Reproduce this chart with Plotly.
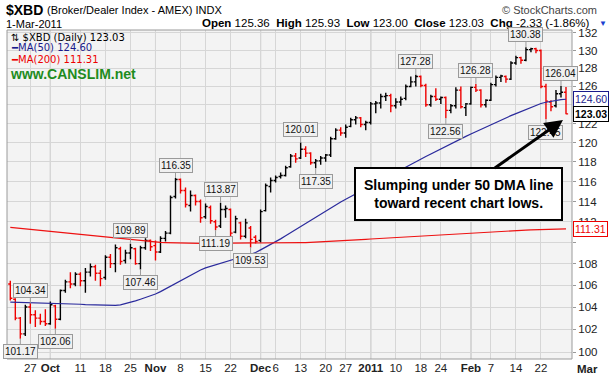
import math
import pandas as pd
import plotly.graph_objects as go

# ---------------- data ----------------
HOLIDAYS = ["2010-11-25", "2010-12-24", "2011-01-17", "2011-02-21"]
dates = [d.strftime("%Y-%m-%d") for d in pd.bdate_range("2010-09-21", "2011-03-01")
         if d.strftime("%Y-%m-%d") not in HOLIDAYS]

opens = [
    106.1, 104.7, 103.0, 101.6,
    104.0, 103.3, 103.0, 102.7, 102.5,
    104.1, 102.9, 105.5, 106.3, 106.1,
    107.0, 106.4, 107.2, 107.7, 107.1,
    106.7, 108.6, 108.0, 109.4, 108.3,
    109.0, 109.4, 108.0, 109.5, 110.2,
    109.7, 109.1, 110.4, 110.9, 114.5,
    116.2, 115.1, 113.6, 114.6, 114.0,
    112.5, 113.4, 112.0, 111.6, 113.2,
    113.2, 111.0, 111.9, 110.6,
    111.4, 110.5, 110.2, 113.1, 115.5,
    116.1, 116.5, 116.6, 117.5, 118.6,
    118.4, 119.3, 118.9, 117.9, 118.1,
    118.4, 118.7, 120.4, 121.3,
    121.0, 121.7, 122.4, 122.6, 121.9,
    122.1, 124.1, 124.2, 124.9, 125.0,
    123.9, 124.3, 124.7, 126.0, 126.5,
    127.1, 126.1, 124.0, 124.9,
    124.6, 124.8, 123.4, 123.9, 125.6,
    123.7, 124.1, 125.9, 125.6, 124.0,
    124.5, 126.2, 127.0, 127.1, 126.8,
    128.6, 129.2, 128.9, 130.1, 130.2,
    130.0, 126.0, 124.3, 123.9, 125.2,
    125.36,
]
highs = [
    106.4, 104.8, 103.1, 104.2,
    104.34, 103.7, 103.4, 103.8, 104.5,
    104.2, 105.6, 106.5, 107.2, 107.2,
    107.2, 107.6, 108.0, 107.9, 107.4,
    108.8, 108.9, 109.8, 109.6, 109.3,
    109.89, 109.5, 109.7, 110.4, 110.3,
    110.2, 110.6, 111.1, 114.6, 116.35,
    116.3, 115.4, 115.1, 114.7, 114.2,
    113.8, 113.6, 112.2, 113.87, 113.6,
    113.3, 112.6, 112.0, 112.3,
    111.6, 110.7, 113.2, 115.8, 116.4,
    116.6, 116.9, 117.6, 118.8, 118.9,
    120.01, 119.6, 119.0, 118.3, 118.6,
    118.8, 120.6, 121.5, 121.6,
    121.9, 122.6, 122.8, 122.7, 122.3,
    124.3, 124.4, 125.2, 125.3, 125.2,
    124.7, 124.9, 126.2, 127.1, 127.28,
    127.2, 126.3, 125.1, 125.8,
    124.9, 124.9, 124.1, 125.9, 126.0,
    124.2, 126.0, 126.28, 125.7, 124.6,
    126.4, 127.2, 127.3, 127.2, 128.8,
    129.4, 129.3, 130.38, 130.3, 130.3,
    130.1, 126.3, 124.5, 125.6, 126.04,
    125.93,
]
lows = [
    104.6, 102.8, 101.17, 101.4,
    102.5, 102.2, 102.4, 102.3, 102.4,
    102.06, 102.8, 105.3, 105.7, 105.9,
    105.9, 105.3, 106.8, 106.4, 105.9,
    106.5, 107.6, 107.2, 107.9, 108.0,
    108.4, 107.9, 107.46, 109.3, 109.2,
    108.3, 109.0, 110.1, 110.8, 114.3,
    114.8, 113.4, 113.0, 113.6, 111.9,
    112.3, 111.8, 111.19, 111.4, 112.4,
    110.6, 110.9, 110.3, 110.4,
    109.53, 109.9, 110.0, 113.0, 114.9,
    115.9, 116.3, 116.5, 117.4, 117.9,
    118.3, 118.5, 117.7, 117.35, 117.7,
    118.0, 118.5, 120.3, 120.7,
    120.5, 121.6, 121.9, 121.6, 121.3,
    121.9, 123.1, 123.6, 124.4, 123.2,
    123.6, 123.9, 124.5, 125.9, 126.0,
    125.9, 123.8, 123.8, 124.4,
    124.1, 122.56, 123.1, 123.6, 123.6,
    122.8, 124.0, 125.4, 123.7, 123.7,
    124.4, 126.0, 126.5, 126.4, 126.7,
    128.4, 128.5, 128.8, 129.8, 129.7,
    125.8, 122.45, 123.3, 123.7, 124.8,
    123.00,
]
closes = [
    104.8, 103.0, 101.6, 104.0,
    103.3, 103.0, 102.7, 102.5, 104.2,
    102.9, 105.5, 106.3, 106.1, 107.0,
    106.4, 107.2, 107.7, 107.1, 106.6,
    108.6, 108.0, 109.5, 108.2, 109.0,
    109.5, 108.0, 109.5, 110.2, 109.6,
    109.1, 110.4, 110.9, 114.4, 116.2,
    115.1, 113.7, 114.6, 114.0, 112.4,
    113.5, 112.1, 111.5, 113.2, 113.3,
    110.9, 112.3, 110.6, 111.9,
    110.3, 110.1, 113.0, 115.6, 116.1,
    116.4, 116.6, 117.4, 118.6, 118.3,
    119.3, 118.9, 117.9, 118.1, 118.4,
    118.7, 120.4, 121.3, 121.0,
    121.6, 122.4, 122.6, 121.9, 122.1,
    124.1, 124.2, 124.9, 125.0, 123.9,
    124.3, 124.6, 126.0, 126.5, 127.1,
    126.1, 124.0, 124.9, 124.6,
    124.8, 123.4, 123.9, 125.6, 123.8,
    124.1, 125.9, 125.6, 124.0, 124.5,
    126.2, 127.0, 127.15, 126.8, 128.6,
    129.2, 128.9, 130.1, 130.2, 130.0,
    126.0, 124.4, 123.8, 125.2, 125.36,
    123.03,
]
prior_close = 106.4

ma50 = [
    104.45, 104.44, 104.43, 104.42, 104.40, 104.39, 104.38, 104.37, 104.36, 104.35,
    104.33, 104.31, 104.29, 104.27, 104.25, 104.22, 104.20, 104.18, 104.16, 104.15,
    104.14, 104.15, 104.20, 104.30, 104.42, 104.55, 104.70, 104.85, 105.00, 105.18,
    105.40, 105.65, 105.90, 106.15, 106.42, 106.70, 106.95, 107.20, 107.40, 107.60,
    107.75, 107.90, 108.05, 108.20, 108.35, 108.48, 108.60, 108.72, 108.85, 109.05,
    109.30, 109.55, 109.80, 110.05, 110.35, 110.65, 110.95, 111.25, 111.55, 111.85,
    112.15, 112.45, 112.75, 113.05, 113.35, 113.65, 113.95, 114.22, 114.49, 114.76,
    115.03, 115.30, 115.57, 115.84, 116.11, 116.38, 116.65, 116.92, 117.19, 117.46,
    117.73, 118.00, 118.27, 118.54, 118.81, 119.08, 119.35, 119.62, 119.89, 120.14,
    120.39, 120.64, 120.89, 121.14, 121.39, 121.64, 121.89, 122.14, 122.39, 122.62,
    122.84, 123.06, 123.28, 123.50, 123.72, 123.94, 124.14, 124.28, 124.40, 124.49, 124.56, 124.60,
]
ma200 = [
    111.45, 111.40, 111.35, 111.30, 111.25, 111.20, 111.15, 111.10, 111.05, 111.00,
    110.95, 110.90, 110.85, 110.80, 110.75, 110.70, 110.65, 110.60, 110.55, 110.50,
    110.45, 110.40, 110.35, 110.30, 110.25, 110.20, 110.16, 110.12, 110.08, 110.05,
    110.02, 110.00, 109.98, 109.97, 109.96, 109.95, 109.94, 109.93, 109.92, 109.92,
    109.92, 109.92, 109.92, 109.92, 109.92, 109.92, 109.92, 109.92, 109.92, 109.93,
    109.93, 109.94, 109.94, 109.95, 109.95, 109.96, 109.97, 109.98, 109.99, 110.00,
    110.02, 110.04, 110.06, 110.08, 110.10, 110.13, 110.16, 110.19, 110.22, 110.25,
    110.28, 110.31, 110.34, 110.37, 110.40, 110.43, 110.46, 110.49, 110.52, 110.55,
    110.58, 110.61, 110.64, 110.67, 110.70, 110.73, 110.76, 110.79, 110.82, 110.85,
    110.88, 110.91, 110.94, 110.97, 111.00, 111.03, 111.06, 111.08, 111.10, 111.12,
    111.14, 111.16, 111.18, 111.20, 111.22, 111.24, 111.25, 111.26, 111.27, 111.28, 111.30, 111.31,
]

tick_dates = ["2010-09-27", "2010-10-01", "2010-10-11", "2010-10-18", "2010-10-25",
              "2010-11-01", "2010-11-08", "2010-11-15", "2010-11-22", "2010-12-01",
              "2010-12-06", "2010-12-13", "2010-12-20", "2010-12-27", "2011-01-03",
              "2011-01-10", "2011-01-18", "2011-01-24", "2011-02-01", "2011-02-07",
              "2011-02-14", "2011-02-22"]
tick_labels = ["27", "<b>Oct</b>", "11", "18", "25", "<b>Nov</b>", "8", "15", "22",
               "<b>Dec</b>", "6", "13", "20", "27", "<b>2011</b>", "10", "18", "24",
               "<b>Feb</b>", "7", "14", "22"]
month_dates = ["2010-10-01", "2010-11-01", "2010-12-01", "2011-01-03", "2011-02-01"]
y_ticks = list(range(100, 133, 2))
y_tick_hidden = [110, 124]   # covered by the value boxes in the original

swing_points = [("2010-09-23", "low"), ("2010-09-27", "high"), ("2010-10-04", "low"),
                ("2010-10-25", "high"), ("2010-10-27", "low"), ("2010-11-05", "high"),
                ("2010-11-17", "low"), ("2010-11-18", "high"), ("2010-11-29", "low"),
                ("2010-12-13", "high"), ("2010-12-16", "low"), ("2011-01-14", "high"),
                ("2011-01-25", "low"), ("2011-02-02", "high"), ("2011-02-16", "high"),
                ("2011-02-28", "high"), ("2011-02-23", "low")]
support_start = "2011-01-11"
support_date = "2011-01-25"
note_text = "Slumping under 50 DMA line<br>toward recent chart lows."

# ---------------- figure ----------------
W, H = 614, 380
ML, MR, MT, MB = 7, 42, 30, 21
PW, PH = W - ML - MR, H - MT - MB


def px(xp):
    return (xp - ML) / PW


def py(yp):
    return (H - MB - yp) / PH


SANS = "Liberation Sans, Arial, sans-serif"
VERD = "DejaVu Sans, Verdana, sans-serif"

idx = {d: i for i, d in enumerate(dates)}
xk = list(range(len(dates)))
prev = [prior_close] + closes[:-1]
up = [i for i in xk if closes[i] >= prev[i]]
dn = [i for i in xk if closes[i] < prev[i]]

fig = go.Figure()


def ohlc(ids, color):
    return go.Ohlc(
        x=[xk[i] for i in ids], open=[opens[i] for i in ids], high=[highs[i] for i in ids],
        low=[lows[i] for i in ids], close=[closes[i] for i in ids],
        increasing=dict(line=dict(color=color, width=1.4)),
        decreasing=dict(line=dict(color=color, width=1.4)),
        tickwidth=0.42, showlegend=False, hoverinfo="skip")


fig.add_trace(ohlc(up, "#000000"))
fig.add_trace(ohlc(dn, "#ee0000"))
fig.add_trace(go.Scatter(x=xk, y=ma50, mode="lines", line=dict(color="#2a2a9c", width=1.2),
                         showlegend=False, hoverinfo="skip"))
fig.add_trace(go.Scatter(x=xk, y=ma200, mode="lines", line=dict(color="#ee1111", width=1.2),
                         showlegend=False, hoverinfo="skip"))

x_min, x_max = -0.66, 112.2
y_min, y_max = 99.40, 132.34

shapes = []
for d in month_dates:
    shapes.append(dict(type="line", xref="x", yref="paper", x0=idx[d], x1=idx[d], y0=0, y1=1,
                       line=dict(color="#a4a4a4", width=1), layer="between"))
sup_level = lows[idx[support_date]]
shapes.append(dict(type="line", xref="x", yref="y", x0=idx[support_start], x1=x_max,
                   y0=math.log10(sup_level), y1=math.log10(sup_level),
                   line=dict(color="#000000", width=3), layer="above"))
shapes.append(dict(type="rect", xref="paper", yref="paper", x0=0, x1=1, y0=0, y1=1,
                   line=dict(color="#9a9a9a", width=1), layer="above"))

ann = []
# header
ann.append(dict(text="<b>$XBD</b>", x=px(4), y=py(9.5), xref="paper", yref="paper",
                xanchor="left", yanchor="middle", showarrow=False,
                font=dict(family=SANS, size=14, color="#000")))
ann.append(dict(text="(Broker/Dealer Index - AMEX) INDX", x=px(45), y=py(10.5), xref="paper",
                yref="paper", xanchor="left", yanchor="middle", showarrow=False,
                font=dict(family=SANS, size=11, color="#000")))
ann.append(dict(text="© StockCharts.com", x=px(599), y=py(10), xref="paper", yref="paper",
                xanchor="right", yanchor="middle", showarrow=False,
                font=dict(family=SANS, size=11, color="#444")))
ann.append(dict(text="1-Mar-2011", x=px(4), y=py(24), xref="paper", yref="paper",
                xanchor="left", yanchor="middle", showarrow=False,
                font=dict(family=SANS, size=11, color="#000")))
chg = closes[-1] - closes[-2]
pct = chg / closes[-2] * 100
summary = ("<b>Open</b> %.2f  <b>High</b> %.2f  <b>Low</b> %.2f  <b>Close</b> %.2f  "
           "<b>Chg</b> %.2f (%.2f%%)" % (opens[-1], highs[-1], lows[-1], closes[-1], chg, pct))
ann.append(dict(text=summary, x=px(592), y=py(23.5), xref="paper", yref="paper",
                xanchor="right", yanchor="middle", showarrow=False,
                font=dict(family=SANS, size=11.5, color="#000")))
ann.append(dict(text="▼", x=px(597), y=py(23.5), xref="paper", yref="paper",
                xanchor="left", yanchor="middle", showarrow=False,
                font=dict(family=SANS, size=8, color="#1a3fd0")))
# legend
ann.append(dict(text="⇅ $XBD (Daily) %.2f" % closes[-1], x=px(9), y=py(37), xref="paper",
                yref="paper", xanchor="left", yanchor="middle", showarrow=False,
                font=dict(family=VERD, size=10, color="#000")))
ann.append(dict(text="━MA(50) %.2f" % ma50[-1], x=px(9), y=py(48), xref="paper",
                yref="paper", xanchor="left", yanchor="middle", showarrow=False,
                font=dict(family=VERD, size=10, color="#1a1a8c")))
ann.append(dict(text="━MA(200) %.2f" % ma200[-1], x=px(9), y=py(59), xref="paper",
                yref="paper", xanchor="left", yanchor="middle", showarrow=False,
                font=dict(family=VERD, size=10, color="#ee0000")))
ann.append(dict(text="<b>www.CANSLIM.net</b>", x=px(8), y=py(74), xref="paper",
                yref="paper", xanchor="left", yanchor="middle", showarrow=False,
                font=dict(family=SANS, size=14, color="#1e8c1e")))
# swing labels
for d, kind in swing_points:
    i = idx[d]
    v = highs[i] if kind == "high" else lows[i]
    ann.append(dict(text="%.2f" % v, x=xk[i], y=math.log10(v), xref="x", yref="y",
                    showarrow=True, ax=0, ay=-13 if kind == "high" else 13,
                    arrowhead=0, arrowwidth=1, arrowcolor="#9a9a9a", standoff=0,
                    bgcolor="#f0f0f0", bordercolor="#9a9a9a", borderwidth=1, borderpad=1,
                    font=dict(family=SANS, size=10, color="#111")))
# right-side value boxes
for val, col, txt in [(ma200[-1], "#ee0000", "%.2f" % ma200[-1]),
                      (ma50[-1], "#1a1a8c", "%.2f" % ma50[-1]),
                      (closes[-1], "#000000", "<b>%.2f</b>" % closes[-1])]:
    ann.append(dict(text=txt, x=px(573), y=math.log10(val), xref="paper", yref="y",
                    xanchor="left", yanchor="middle", showarrow=False,
                    bgcolor="#ffffff", bordercolor=col, borderwidth=1, borderpad=1,
                    font=dict(family=SANS, size=10.5, color=col)))
# Mar label
ann.append(dict(text="<b>Mar</b>", x=px(587), y=py(369), xref="paper", yref="paper",
                xanchor="center", yanchor="middle", showarrow=False,
                font=dict(family=SANS, size=11.5, color="#222")))
# note box with arrow
ann.append(dict(text="<b>%s</b>" % note_text, x=px(563), y=py(120), xref="paper", yref="paper",
                showarrow=True, ax=-105, ay=74, arrowhead=2, arrowsize=1.2, arrowwidth=3,
                arrowcolor="#000", standoff=0, bgcolor="#ffffff", bordercolor="#000",
                borderwidth=2, borderpad=8, font=dict(family=SANS, size=14, color="#000")))

fig.update_layout(
    width=W, height=H, margin=dict(l=ML, r=MR, t=MT, b=MB, autoexpand=False),
    paper_bgcolor="#ffffff", plot_bgcolor="#f3f3f3", showlegend=False,
    xaxis=dict(range=[x_min, x_max], tickvals=[idx[d] for d in tick_dates], ticktext=tick_labels,
               showgrid=True, gridcolor="#d6d6d6", gridwidth=1, zeroline=False,
               rangeslider=dict(visible=False), ticks="", showline=False,
               tickangle=0, automargin=False,
               tickfont=dict(family=SANS, size=11.5, color="#222")),
    yaxis=dict(type="log", range=[math.log10(y_min), math.log10(y_max)], side="right",
               tickvals=y_ticks,
               ticktext=["" if v in y_tick_hidden else str(v) for v in y_ticks],
               showgrid=True, automargin=False,
               gridcolor="#d6d6d6", zeroline=False, ticks="outside", ticklen=3,
               tickcolor="#999", showline=False,
               tickfont=dict(family=SANS, size=11.5, color="#222")),
    shapes=shapes, annotations=ann,
)

fig.write_html("out.html", config={"displayModeBar": False},
               post_script="document.body.style.margin='0';document.body.style.overflow='hidden';")
